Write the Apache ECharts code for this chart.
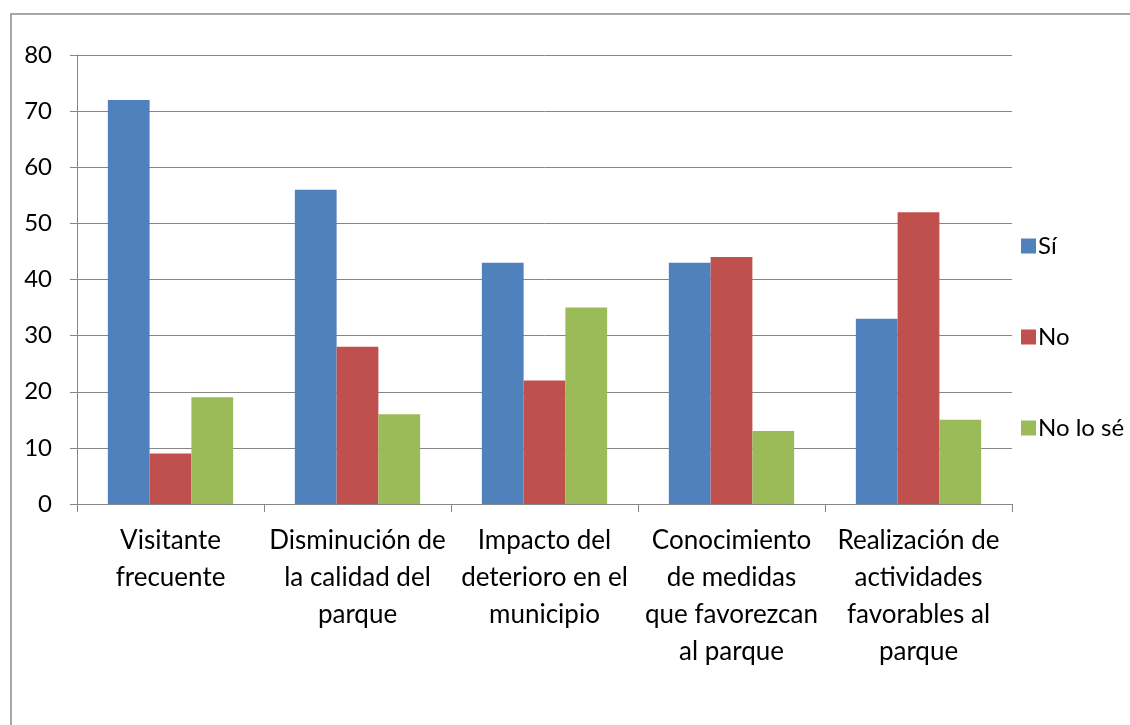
<!DOCTYPE html>
<html>
<head>
<meta charset="utf-8">
<script src="https://cdn.jsdelivr.net/npm/echarts@6/dist/echarts.min.js"></script>
<style>
html,body{margin:0;padding:0;background:#fff;}
#chart{width:1130px;height:725px;}
</style>
</head>
<body>
<div id="chart"></div>
<script>
const categories = [
  "Visitante\nfrecuente",
  "Disminución de\nla calidad del\nparque",
  "Impacto del\ndeterioro en el\nmunicipio",
  "Conocimiento\nde medidas\nque favorezcan\nal parque",
  "Realización de\nactividades\nfavorables al\nparque"
];
const seriesNames = ["Sí", "No", "No lo sé"];
const valuesSi = [72, 56, 43, 43, 33];
const valuesNo = [9, 28, 22, 44, 52];
const valuesNoLoSe = [19, 16, 35, 13, 15];
const colors = ["#4F81BD", "#C0504D", "#9BBB59"];

const FONT = "Lato";
const gray = "#868686";

const chart = echarts.init(document.getElementById('chart'), null, {renderer: 'canvas'});
const dataSets = [valuesSi, valuesNo, valuesNoLoSe];
chart.setOption({
  animation: false,
  backgroundColor: '#ffffff',
  color: colors,
  graphic: [{
    type: 'rect',
    shape: {x: 11, y: 14, width: 1300, height: 900},
    style: {fill: 'none', stroke: '#8a8a8a', lineWidth: 1.5},
    silent: true
  }],
  grid: {left: 77, right: 118, top: 55, bottom: 221, containLabel: false},
  legend: {
    orient: 'vertical',
    left: 1016,
    top: 229,
    itemWidth: 15,
    itemHeight: 15,
    itemGap: 67,
    icon: 'rect',
    data: seriesNames,
    textStyle: {fontFamily: FONT, fontSize: 24, color: '#000', lineHeight: 24, padding: [0,0,0,-3]}
  },
  xAxis: {
    type: 'category',
    data: categories,
    axisLine: {lineStyle: {color: gray, width: 1}},
    axisTick: {show: true, length: 8, interval: 0, lineStyle: {color: gray}},
    axisLabel: {
      interval: 0,
      fontFamily: FONT,
      fontSize: 26,
      color: '#000',
      lineHeight: 37,
      margin: 18
    },
    splitLine: {show: false}
  },
  yAxis: {
    type: 'value',
    min: 0,
    max: 80,
    interval: 10,
    axisLine: {show: true, lineStyle: {color: gray, width: 1}},
    axisTick: {show: true, length: 7, lineStyle: {color: gray}},
    axisLabel: {fontFamily: FONT, fontSize: 24, color: '#000', margin: 25},
    splitLine: {show: true, lineStyle: {color: gray, width: 1}}
  },
  series: seriesNames.map((n, i) => ({
    name: n,
    type: 'bar',
    data: dataSets[i],
    barGap: '0%',
    barCategoryGap: '33%',
    itemStyle: {color: colors[i]}
  }))
});
</script>
</body>
</html>
